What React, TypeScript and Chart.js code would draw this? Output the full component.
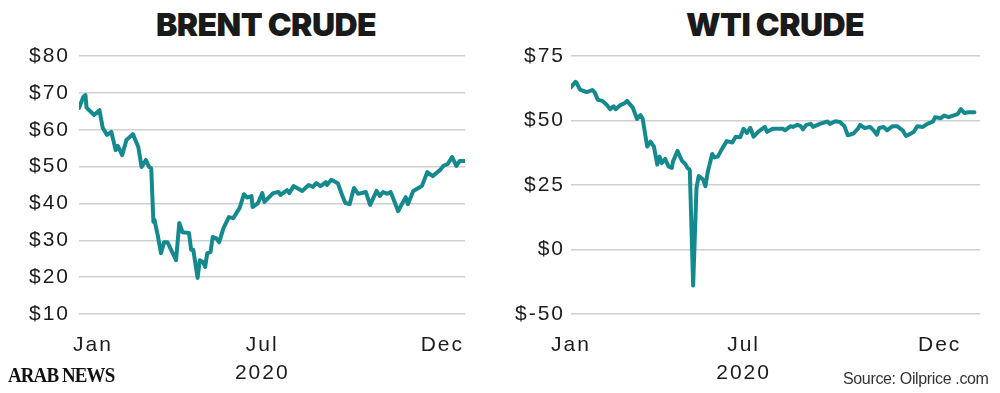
import React, { useEffect, useRef } from 'react';
import { Chart, registerables, LinearScale } from 'chart.js';

Chart.register(...registerables);

// ---------- DATA ----------
// Brent crude, 2020 (day of year, USD per barrel)
const brentDays = [2, 6, 8, 9, 16, 21, 24, 28, 32, 36, 38, 42, 46, 52, 57, 60, 64, 67, 69, 71, 72, 75, 78, 81, 84, 92, 95, 98, 104, 106, 108, 112, 114, 117, 119, 121, 124, 126, 129, 132, 136, 141, 145, 147, 151, 155, 158, 162, 163, 168, 172, 174, 182, 187, 189, 195, 197, 201, 209, 215, 219, 222, 226, 231, 232, 236, 242, 246, 249, 253, 257, 261, 268, 272, 278, 281, 284, 288, 291, 293, 298, 305, 307, 312, 320, 325, 330, 337, 340, 344, 348, 352, 355, 360];
const brentPrices = [65.9, 68.9, 69.4, 66.0, 64.0, 65.3, 60.5, 58.6, 59.4, 54.5, 55.6, 53.1, 57.2, 58.8, 55.3, 49.9, 51.8, 49.9, 49.5, 35.0, 35.5, 31.4, 26.5, 29.5, 29.5, 24.6, 34.7, 32.2, 32.0, 27.4, 27.4, 19.8, 24.6, 24.1, 22.8, 26.5, 26.8, 30.9, 30.6, 29.5, 33.3, 36.3, 36.0, 36.9, 38.8, 42.5, 41.6, 42.0, 39.0, 40.1, 42.8, 40.4, 42.8, 43.1, 42.3, 43.6, 42.8, 44.7, 43.4, 45.0, 44.5, 45.5, 44.7, 45.8, 45.0, 46.4, 45.5, 42.3, 40.1, 39.8, 44.2, 42.6, 43.1, 39.6, 43.4, 42.0, 43.1, 42.6, 43.1, 41.7, 37.9, 41.7, 39.8, 43.4, 44.7, 48.5, 47.4, 49.1, 50.2, 50.7, 52.6, 50.2, 51.5, 51.5];

// WTI crude, 2020 (day of year, USD per barrel)
const wtiDays = [2, 6, 7, 10, 16, 21, 23, 26, 30, 34, 37, 40, 42, 46, 50, 52, 57, 61, 64, 66, 70, 73, 76, 79, 81, 83, 86, 89, 92, 93, 97, 101, 104, 106, 108, 111, 114, 116, 120, 122, 124, 126, 128, 130, 133, 137, 141, 146, 149, 153, 156, 159, 162, 165, 169, 175, 177, 182, 191, 193, 198, 200, 204, 207, 209, 212, 216, 218, 224, 231, 233, 238, 242, 246, 249, 254, 258, 260, 264, 269, 272, 275, 277, 281, 284, 289, 293, 298, 301, 305, 308, 311, 316, 320, 325, 327, 332, 335, 339, 343, 347, 350, 353, 357, 362];
const wtiPrices = [62.9, 65.0, 64.6, 62.0, 61.0, 61.8, 61.0, 58.0, 57.6, 56.0, 54.4, 55.5, 54.4, 56.0, 56.7, 57.6, 55.1, 50.6, 52.1, 50.6, 39.9, 41.8, 39.9, 32.9, 36.0, 33.5, 35.1, 32.2, 31.6, 34.1, 38.2, 34.4, 33.1, 31.6, 30.9, -28.0, 24.0, 28.5, 27.0, 24.5, 30.0, 33.5, 37.0, 35.7, 36.0, 39.2, 42.0, 41.5, 43.7, 43.5, 46.8, 45.2, 47.1, 43.7, 45.6, 47.5, 45.6, 46.8, 46.8, 46.2, 47.8, 47.5, 48.3, 47.8, 46.6, 48.3, 48.7, 47.5, 48.7, 49.6, 48.7, 49.7, 49.4, 47.8, 44.3, 44.9, 46.8, 48.3, 47.1, 47.5, 46.2, 44.5, 47.1, 47.5, 46.2, 47.8, 47.8, 46.2, 44.0, 44.9, 45.6, 47.8, 47.5, 48.7, 49.6, 51.3, 50.9, 51.9, 51.3, 51.9, 52.5, 54.4, 52.9, 53.2, 53.2];

// Axis ticks
const brentYTicks = [10, 20, 30, 40, 50, 60, 70, 80];
const wtiYTicks = [-50, 0, 25, 50, 75];
const brentXTickDays = [15, 172, 339];
const wtiXTickDays = [2, 156, 331];
const xTickLabels: (string | string[])[] = ['Jan', ['Jul', '2020'], 'Dec'];

// ---------- STYLE ----------
const LINE_COLOR = '#158a8e';
const GRID_COLOR = '#cfcfcf';
const TEXT_COLOR = '#1c1c1c';
const TICK_FONT = { family: "'Liberation Sans', Arial, sans-serif", size: 21, lineHeight: 1.3 };

// A value axis whose tick values are equally spaced (as drawn in the WTI panel)
class TickSpacedScale extends LinearScale {
  static id = 'tickSpaced';
  _decimalFor(value: number) {
    const s = wtiYTicks;
    const n = s.length;
    let i = 0;
    while (i < n - 2 && value > s[i + 1]) i++;
    return (i + (value - s[i]) / (s[i + 1] - s[i])) / (n - 1);
  }
  getPixelForValue(value: number) {
    if (value === null || value === undefined || isNaN(value)) return NaN;
    return this.getPixelForDecimal(this._decimalFor(value));
  }
  getValueForPixel(pixel: number) {
    const s = wtiYTicks;
    const n = s.length;
    const d = this.getDecimalForPixel(pixel) * (n - 1);
    const i = Math.max(0, Math.min(n - 2, Math.floor(d)));
    return s[i] + (d - i) * (s[i + 1] - s[i]);
  }
}
Chart.register(TickSpacedScale);

const letterSpacingPlugin = {
  id: 'letterSpacing',
  beforeLayout(chart: any) { (chart.ctx as any).letterSpacing = '2px'; },
  beforeDraw(chart: any) { (chart.ctx as any).letterSpacing = '2px'; },
};

function makeConfig(opts: {
  days: number[]; prices: number[]; xMin: number; xMax: number; xTicks: number[];
  yType: string; yMin: number; yMax: number; yTicks: number[]; yWidth: number; yPad: number; rightPad: number;
}) {
  return {
    type: 'line' as const,
    data: {
      datasets: [{
        data: opts.days.map((d, i) => ({ x: d, y: opts.prices[i] })),
        borderColor: LINE_COLOR,
        borderWidth: 4,
        pointRadius: 0,
        tension: 0,
        borderJoinStyle: 'round' as const,
        borderCapStyle: 'round' as const,
        fill: false,
      }],
    },
    options: {
      animation: false as const,
      responsive: false,
      devicePixelRatio: 1,
      layout: { padding: { left: 0, right: opts.rightPad, top: 56, bottom: 0 } },
      plugins: { legend: { display: false }, tooltip: { enabled: false }, title: { display: false } },
      scales: {
        x: {
          type: 'linear' as const,
          min: opts.xMin,
          max: opts.xMax,
          grid: { display: false, drawTicks: false },
          border: { display: false },
          afterBuildTicks: (s: any) => { s.ticks = opts.xTicks.map((v) => ({ value: v })); },
          afterFit: (s: any) => { s.height = 79; },
          ticks: {
            autoSkip: false,
            maxRotation: 0,
            padding: 18,
            color: TEXT_COLOR,
            font: TICK_FONT,
            callback: (_v: any, i: number) => xTickLabels[i],
          },
        },
        y: {
          type: opts.yType,
          min: opts.yMin,
          max: opts.yMax,
          grid: { color: GRID_COLOR, lineWidth: 1.5, drawTicks: false },
          border: { display: false },
          afterBuildTicks: (s: any) => { s.ticks = opts.yTicks.map((v) => ({ value: v })); },
          afterFit: (s: any) => { s.width = opts.yWidth; },
          ticks: {
            padding: opts.yPad,
            color: TEXT_COLOR,
            font: TICK_FONT,
            callback: (v: any) => '$' + v,
          },
        },
      },
    },
    plugins: [letterSpacingPlugin],
  };
}

function ChartCanvas(props: { config: any; left: number; width: number }) {
  const ref = useRef<HTMLCanvasElement | null>(null);
  useEffect(() => {
    if (!ref.current) return;
    const chart = new Chart(ref.current, props.config);
    return () => chart.destroy();
  }, []);
  return (
    <canvas
      ref={ref}
      width={props.width}
      height={393}
      style={{ position: 'absolute', left: props.left, top: 0, width: props.width, height: 393 }}
    />
  );
}

const titleStyle: React.CSSProperties = {
  position: 'absolute',
  top: 9,
  width: 400,
  textAlign: 'center',
  fontFamily: "Inter, 'Liberation Sans', sans-serif",
  fontWeight: 900,
  fontSize: 32,
  lineHeight: '32px',
  letterSpacing: '-0.6px',
  color: '#1a1a1a',
};

export default function App() {
  const brentConfig = makeConfig({
    days: brentDays, prices: brentPrices, xMin: 2, xMax: 360, xTicks: brentXTickDays,
    yType: 'linear', yMin: 10, yMax: 80, yTicks: brentYTicks, yWidth: 79, yPad: 9, rightPad: 25,
  });
  const wtiConfig = makeConfig({
    days: wtiDays, prices: wtiPrices, xMin: 2, xMax: 367, xTicks: wtiXTickDays,
    yType: 'tickSpaced', yMin: -50, yMax: 75, yTicks: wtiYTicks, yWidth: 81, yPad: 6, rightPad: 20,
  });
  return (
    <div style={{ position: 'fixed', left: 0, top: 0, width: 1000, height: 393, background: '#fff', overflow: 'hidden' }}>
      <div style={{ ...titleStyle, left: 66 }}>BRENT CRUDE</div>
      <div style={{ ...titleStyle, left: 575 }}>WTI CRUDE</div>
      <ChartCanvas config={brentConfig} left={0} width={490} />
      <ChartCanvas config={wtiConfig} left={490} width={510} />
      <div style={{
        position: 'absolute', left: 8, top: 364, fontFamily: "'Liberation Serif', 'Times New Roman', serif",
        fontWeight: 700, fontSize: 22, lineHeight: '22px', letterSpacing: '-1px', color: '#111',
        transform: 'scaleX(0.86)', transformOrigin: 'left top', whiteSpace: 'nowrap',
      }}>ARAB NEWS</div>
      <div style={{
        position: 'absolute', left: 843, top: 371, fontFamily: "'Liberation Sans', Arial, sans-serif",
        fontSize: 16, lineHeight: '16px', letterSpacing: '-0.35px', color: '#333', whiteSpace: 'nowrap',
      }}>Source: Oilprice .com</div>
    </div>
  );
}
